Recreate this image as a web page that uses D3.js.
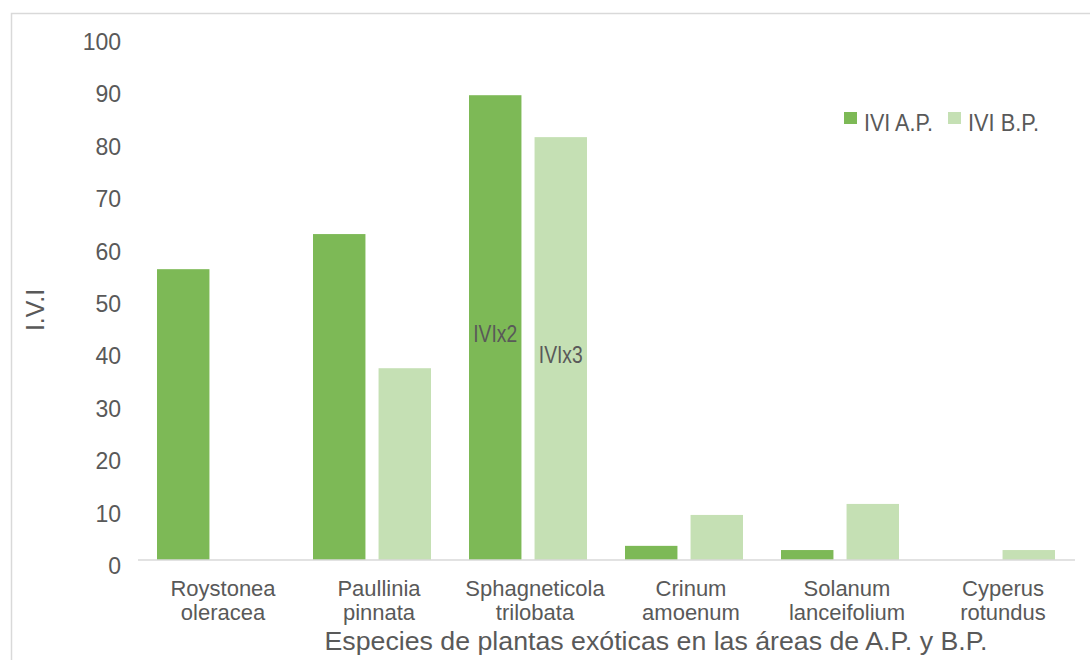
<!DOCTYPE html>
<html>
<head>
<meta charset="utf-8">
<script src="https://cdn.jsdelivr.net/npm/d3@7"></script>
<style>
  body { margin: 0; background: #fff; }
  text { font-family: "Liberation Sans", Arial, sans-serif; fill: #595959; }
</style>
</head>
<body>
<div id="chart"></div>
<script>
// species on the x axis (two lines each)
const species = [
  ["Roystonea", "oleracea"],
  ["Paullinia", "pinnata"],
  ["Sphagneticola", "trilobata"],
  ["Crinum", "amoenum"],
  ["Solanum", "lanceifolium"],
  ["Cyperus", "rotundus"]
];
const seriesNames = ["IVI A.P.", "IVI B.P."];
const iviAP = [55.5, 62.2, 88.7, 2.7, 1.9, 0];
const iviBP = [0, 36.6, 80.7, 8.6, 10.7, 1.9];
const yTicks = [0, 10, 20, 30, 40, 50, 60, 70, 80, 90, 100];
// text written inside the Sphagneticola bars (value = baseline height)
const barNotes = [{ cat: 2, serie: 0, text: "IVIx2", value: 41.6 }, { cat: 2, serie: 1, text: "IVIx3", value: 37.6 }];

const width = 1090, height = 660;
const colors = ["#7db956", "#c5e0b4"];

const svg = d3.select("#chart")
  .append("svg")
  .attr("width", width)
  .attr("height", height);

// outer frame of the chart area
svg.append("path")
  .attr("d", "M11.5,660 V13.5 H1090")
  .attr("fill", "none")
  .attr("stroke", "#d9d9d9")
  .attr("stroke-width", 1.5);

const x = d3.scaleBand()
  .domain(d3.range(species.length))
  .range([138, 1074]);

const x1 = d3.scaleBand()
  .domain([0, 1])
  .range([0, x.bandwidth()])
  .paddingInner(0.2)
  .paddingOuter(0.29);

const y = d3.scaleLinear()
  .domain([0, 100])
  .range([560, 36]);

// y tick labels (no axis line, no gridlines)
svg.selectAll(".ytick")
  .data(yTicks)
  .join("text")
  .attr("class", "ytick")
  .attr("x", 121)
  .attr("y", d => y(d) + 6)
  .attr("dy", "0.35em")
  .attr("text-anchor", "end")
  .style("font-size", "23px")
  .text(d => d);

const rows = species.map((s, i) => [iviAP[i], iviBP[i]]);

svg.append("g")
  .selectAll("g")
  .data(rows)
  .join("g")
  .attr("transform", (d, i) => `translate(${x(i)},0)`)
  .selectAll("rect")
  .data(d => d.map((v, j) => ({ v, j })))
  .join("rect")
  .attr("x", d => x1(d.j))
  .attr("width", x1.bandwidth())
  .attr("y", d => y(d.v))
  .attr("height", d => y(0) - y(d.v))
  .attr("fill", d => colors[d.j]);

// baseline
svg.append("line")
  .attr("x1", 138).attr("x2", 1075)
  .attr("y1", y(0)).attr("y2", y(0))
  .attr("stroke", "#d9d9d9")
  .attr("stroke-width", 1.5);

// category labels, two lines, a little right of the band centre like the original
const catLabels = svg.selectAll(".cat")
  .data(species)
  .join("g")
  .attr("class", "cat")
  .attr("transform", (d, i) => `translate(${x(i) + x.bandwidth() / 2 + 7},0)`);
catLabels.append("text")
  .attr("y", 596)
  .attr("text-anchor", "middle")
  .style("font-size", "22px")
  .text(d => d[0]);
catLabels.append("text")
  .attr("y", 620)
  .attr("text-anchor", "middle")
  .style("font-size", "22px")
  .text(d => d[1]);

// notes inside bars
svg.selectAll(".note")
  .data(barNotes)
  .join("text")
  .attr("class", "note")
  .attr("x", d => x(d.cat) + x1(d.serie) + x1.bandwidth() / 2)
  .attr("y", d => y(d.value))
  .attr("text-anchor", "middle")
  .style("font-size", "23px")
  .text(d => d.text)
  .attr("textLength", 44)
  .attr("lengthAdjust", "spacingAndGlyphs");

// axis titles
svg.append("text")
  .attr("x", 656)
  .attr("y", 650)
  .attr("text-anchor", "middle")
  .style("font-size", "25px")
  .attr("textLength", 663)
  .attr("lengthAdjust", "spacingAndGlyphs")
  .text("Especies de plantas exóticas en las áreas de A.P. y B.P.");

svg.append("text")
  .attr("transform", "translate(44,310) rotate(-90)")
  .attr("text-anchor", "middle")
  .style("font-size", "25px")
  .text("I.V.I");

// legend
const legendX = [844, 948];
const legend = svg.selectAll(".legend")
  .data(seriesNames)
  .join("g")
  .attr("class", "legend")
  .attr("transform", (d, i) => `translate(${legendX[i]},112)`);
legend.append("rect")
  .attr("width", 13)
  .attr("height", 12)
  .attr("fill", (d, i) => colors[i]);
legend.append("text")
  .attr("x", 20)
  .attr("y", 19)
  .style("font-size", "23px")
  .attr("textLength", (d, i) => i === 0 ? 69 : 71)
  .attr("lengthAdjust", "spacingAndGlyphs")
  .text(d => d);
</script>
</body>
</html>
